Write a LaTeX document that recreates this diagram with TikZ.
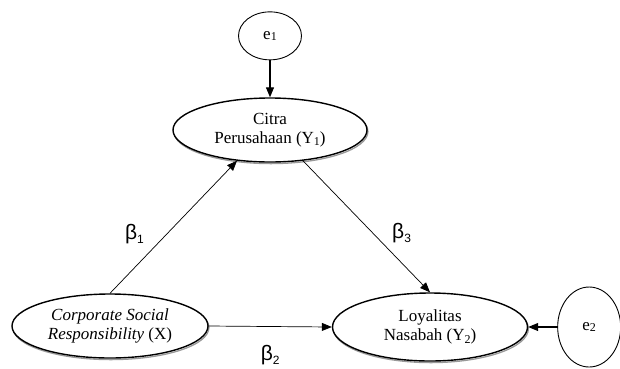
\documentclass[tikz,border=0pt]{standalone}
\usepackage{fontspec}
\setmainfont{Liberation Serif}
\newfontfamily\coeffont{Liberation Sans}
\usetikzlibrary{positioning, shapes.geometric, arrows.meta, shadows}

\newcommand{\lowsub}[2][0.35ex]{\raisebox{-#1}{\fontsize{12}{12}\selectfont #2}}

\begin{document}
\begin{tikzpicture}[
				x=1pt, y=-1pt,
				>={Triangle[length=10pt, width=8pt]},
				font=\fontsize{17}{18.5}\selectfont,
				construct/.style={
					ellipse, draw=black, line width=1.4pt, fill=white, align=center, inner sep=0pt,
					general shadow={shadow xshift=0.9pt, shadow yshift=-1.6pt, draw=black!40, line width=1.3pt, fill=none}
				},
				error/.style={ellipse, draw=black, line width=0.9pt, fill=white, inner sep=0pt,
					minimum width=63pt},
				arrow/.style={->, line width=0.7pt},
				coef/.style={font=\coeffont\fontsize{21}{22}\selectfont}
				]
				\useasboundingbox (0,0) rectangle (620,368);
				
				% Constructs
				\node[construct, minimum width=196pt, minimum height=64pt] (csr) at (110,326)
					{\textit{Corporate Social}\\\textit{Responsibility} (X)};
				\node[construct, minimum width=194pt, minimum height=64pt] (citra) at (270,130)
					{Citra\\Perusahaan (Y\lowsub{1})};
				\node[construct, minimum width=195pt, minimum height=68pt] (loyal) at (430,327)
					{Loyalitas\\Nasabah (Y\lowsub{2})};
				
				% Error terms
				\node[error, minimum height=48pt, above=37pt of citra] (e1) {e\lowsub[0.1ex]{1}};
				\node[error, minimum height=80pt, right=29pt of loyal] (e2) {e\lowsub[0.1ex]{2}};
				
				% Paths
				\draw[arrow] (csr.north) -- node[coef, left=26pt, yshift=-7pt] {β\lowsub{1}} (citra.223);
				\draw[arrow] (citra.317) -- node[coef, right=22pt, yshift=-7pt] {β\lowsub{3}} (loyal.north);
				\draw[arrow] (csr.east) -- node[coef, below=15pt] {β\lowsub{2}} (loyal.west);
				\draw[arrow, line width=1.1pt] (e1) -- (citra);
				\draw[arrow, line width=1.1pt] (e2) -- (loyal);
				
			\end{tikzpicture}
\end{document}
